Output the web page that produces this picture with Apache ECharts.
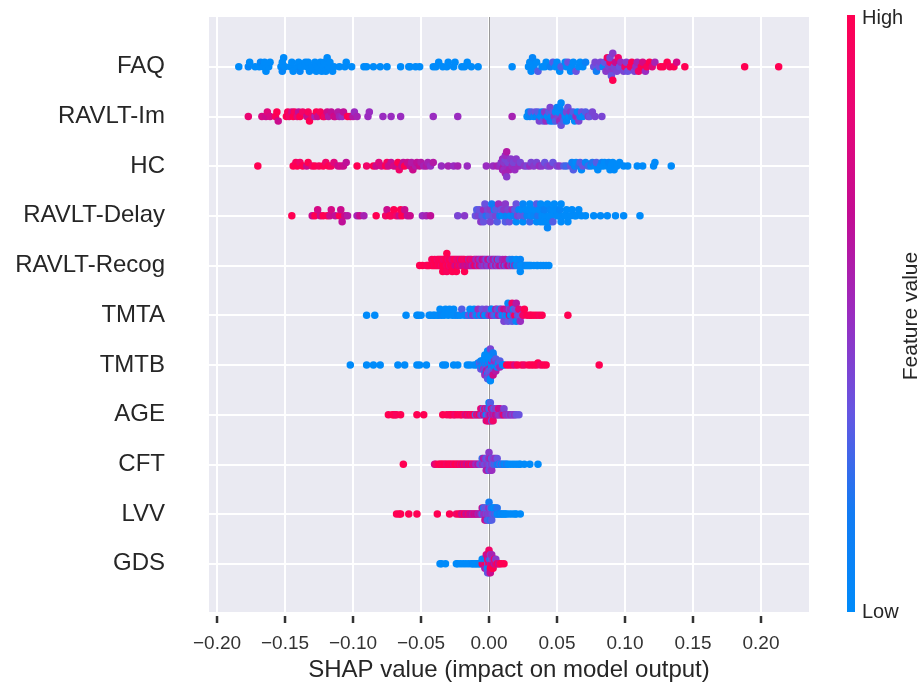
<!DOCTYPE html>
<html>
<head>
<meta charset="utf-8">
<script src="https://cdn.jsdelivr.net/npm/echarts@6/dist/echarts.min.js"></script>
<style>
  html, body { margin: 0; padding: 0; background: #fff; }
  #chart { width: 922px; height: 687px; }
</style>
</head>
<body>
<div id="chart"></div>
<script>
// feature names, bottom row first (least important at the bottom)
const features = ['GDS', 'LVV', 'CFT', 'AGE', 'TMTB', 'TMTA', 'RAVLT-Recog', 'RAVLT-Delay', 'HC', 'RAVLT-Im', 'FAQ'];
const xTicks = [-0.2, -0.15, -0.1, -0.05, 0, 0.05, 0.1, 0.15, 0.2];
// low -> high feature value
const colorStops = ['#008bfa', '#127bf3', '#6556e2', '#9a2cc0', '#c30c93', '#e80676', '#ff0052'];

// each point: [SHAP value, feature value (0 = low, 1 = high)]
const faq = [
  [-0.184,0],[-0.177,0.05],[-0.176,0],[-0.172,0],[-0.169,0],[-0.168,0.05],[-0.166,0],[-0.165,0],[-0.164,0],[-0.162,0],
  [-0.161,0],[-0.153,0],[-0.152,0],[-0.152,0.05],[-0.151,0],[-0.150,0],[-0.146,0],[-0.145,0],[-0.144,0],[-0.141,0],
  [-0.140,0],[-0.139,0.05],[-0.138,0],[-0.135,0],[-0.134,0],[-0.133,0],[-0.132,0],[-0.130,0],[-0.128,0],[-0.127,0],
  [-0.126,0],[-0.124,0],[-0.123,0],[-0.122,0],[-0.121,0],[-0.120,0],[-0.119,0],[-0.118,0],[-0.117,0],[-0.115,0],
  [-0.114,0],[-0.110,0],[-0.106,0],[-0.105,0],[-0.101,0],[-0.092,0],[-0.090,0],[-0.085,0],[-0.080,0],[-0.075,0],
  [-0.065,0],[-0.059,0],[-0.058,0],[-0.054,0],[-0.051,0],[-0.041,0],[-0.039,0],[-0.037,0],[-0.034,0],[-0.031,0],
  [-0.030,0],[-0.026,0],[-0.025,0],[-0.020,0],[-0.018,0],[-0.016,0],[-0.013,0],[-0.008,0],
  [0.017,0],[0.029,0],[0.030,0],[0.031,0],[0.032,0.05],[0.033,0],[0.035,0],[0.036,0.3],[0.039,0],[0.041,0],
  [0.042,0],[0.045,0.1],[0.047,0.3],[0.049,0],[0.050,0],[0.052,0],[0.053,0.3],[0.056,0],[0.057,0],[0.058,0.35],
  [0.060,0],[0.061,0],[0.062,0],[0.064,0.35],[0.066,0],[0.067,0],[0.069,0],[0.071,0.1],[0.077,0.35],[0.078,0.4],
  [0.079,0.15],[0.081,0.35],[0.082,0.4],[0.084,0.05],[0.085,0.35],[0.086,0.45],[0.087,0.95],[0.088,0.4],[0.089,0.9],[0.090,0.45],
  [0.089,0.4],[0.090,0.35],[0.091,0.45],
  [0.091,1],[0.092,0.4],[0.093,0.7],[0.094,0.4],[0.095,0.9],[0.096,0.35],[0.097,0.5],[0.099,0.4],[0.100,0.9],[0.101,0.45],
  [0.102,0.35],[0.104,0.95],[0.105,1],[0.107,0.4],[0.108,0.5],[0.109,0.55],[0.110,0.9],[0.112,1],[0.113,0.75],[0.115,0.5],
  [0.116,0.95],[0.118,1],[0.120,0.8],[0.122,0.55],[0.126,1],[0.128,1],[0.131,1],[0.133,0.95],[0.136,1],[0.138,0.75],
  [0.144,1],[0.188,1],[0.213,1]
];
const ravltIm = [
  [-0.177,0.85],[-0.167,0.75],[-0.164,0.7],[-0.163,0.8],[-0.161,0.75],[-0.157,0.95],[-0.156,1],[-0.155,0.7],[-0.149,1],[-0.148,0.95],
  [-0.147,0.9],[-0.145,0.75],[-0.144,1],[-0.143,0.95],[-0.141,0.8],[-0.140,0.65],[-0.139,1],[-0.137,0.9],[-0.134,0.7],[-0.133,0.95],
  [-0.132,1],[-0.130,0.9],[-0.128,0.55],[-0.127,1],[-0.126,0.7],[-0.124,0.95],[-0.122,1],[-0.121,0.9],[-0.119,0.7],[-0.118,0.6],
  [-0.116,0.65],[-0.114,0.75],[-0.113,0.7],[-0.111,0.6],[-0.110,0.55],[-0.108,0.5],[-0.107,0.65],[-0.104,1],[-0.102,0.95],[-0.100,0.6],
  [-0.099,0.5],[-0.097,0.55],[-0.089,0.5],[-0.088,0.5],[-0.078,0.5],[-0.072,0.5],[-0.065,0.5],[-0.041,0.5],[-0.023,0.5],[0.017,0.55],
  [0.028,0],[0.029,0.05],[0.030,0.1],[0.031,0.3],[0.033,0],[0.034,0.35],[0.035,0.05],[0.036,0.3],[0.037,0.4],[0.038,0],
  [0.039,0.1],[0.040,0.35],[0.041,0.05],[0.041,0.45],[0.042,0.5],[0.043,0],[0.044,0.3],[0.045,0.1],[0.045,0.4],[0.046,0],
  [0.047,0.35],[0.047,0.05],[0.048,0.45],[0.049,0],[0.049,0.3],[0.050,0.1],[0.051,0.4],[0.051,0],[0.052,0.5],[0.052,0.05],
  [0.053,0.35],[0.053,0],[0.054,0.45],[0.055,0.1],[0.055,0.3],[0.056,0],[0.057,0.4],[0.057,0.05],[0.058,0.35],[0.059,0],
  [0.060,0.45],[0.061,0.1],[0.062,0.3],[0.063,0],[0.064,0.5],[0.065,0.05],[0.066,0.4],[0.067,0.1],[0.068,0.35],[0.069,0],
  [0.071,0.3],[0.073,0.45],[0.074,0.35],[0.076,0.4],[0.078,0.4],[0.083,0.4]
];
const hc = [
  [-0.170,1],[-0.144,1],[-0.142,0.95],[-0.141,1],[-0.139,0.9],[-0.137,1],[-0.134,0.7],[-0.133,1],[-0.130,0.9],[-0.128,1],
  [-0.125,0.95],[-0.122,1],[-0.120,0.9],[-0.118,1],[-0.116,0.95],[-0.114,0.8],[-0.111,0.7],[-0.109,0.75],[-0.107,0.7],[-0.105,0.65],
  [-0.097,1],[-0.090,0.9],[-0.085,1],[-0.083,0.7],[-0.081,0.8],[-0.079,0.75],[-0.076,1],[-0.075,0.95],[-0.074,0.7],[-0.072,0.65],
  [-0.070,0.75],[-0.068,0.7],[-0.067,1],[-0.066,0.9],[-0.064,0.7],[-0.063,0.65],[-0.062,1],[-0.060,0.7],[-0.058,0.65],[-0.057,0.6],
  [-0.056,0.7],[-0.054,0.6],[-0.053,0.65],[-0.051,0.7],[-0.050,0.6],[-0.048,0.55],[-0.046,0.6],[-0.045,0.55],[-0.043,0.5],[-0.041,0.6],
  [-0.035,0.5],[-0.030,0.55],[-0.026,0.5],[-0.023,0.55],[-0.016,0.5],[-0.002,0.5],[0.003,0.5],[0.006,0.55],
  [0.008,0.5],[0.009,0.45],[0.010,0.55],[0.010,0.5],[0.011,0.6],[0.011,0.45],[0.011,0.5],[0.012,0.4],[0.012,0.55],[0.012,0.5],
  [0.013,0.45],[0.013,0.6],[0.014,0.5],[0.014,0.4],[0.015,0.55],[0.016,0.45],[0.017,0.5],[0.018,0.4],[0.019,0.5],[0.020,0.45],
  [0.022,0.5],[0.023,0.4],
  [0.026,0.45],[0.028,0.4],[0.030,0.5],[0.031,0.4],[0.033,0.45],[0.035,0.4],[0.037,0.5],[0.039,0.45],[0.041,0.35],[0.043,0.4],
  [0.045,0.45],[0.047,0.35],[0.050,0.4],[0.052,0.45],[0.055,0.3],[0.057,0.25],[0.060,0.35],[0.061,0.1],[0.062,0.3],[0.063,0.05],
  [0.064,0],[0.066,0.2],[0.067,0.3],[0.068,0],[0.069,0.35],[0.071,0.05],[0.073,0.25],[0.075,0],[0.076,0.2],[0.078,0],
  [0.079,0.3],[0.080,0],[0.082,0],[0.083,0.1],[0.084,0],[0.085,0],[0.087,0],[0.088,0.05],[0.089,0],[0.090,0],
  [0.091,0],[0.092,0],[0.094,0],[0.096,0],[0.099,0],[0.102,0],[0.109,0],[0.113,0],[0.121,0],[0.122,0],[0.134,0]
];
const ravltDelay = [
  [-0.145,1],[-0.130,0.7],[-0.128,1],[-0.126,0.75],[-0.124,0.7],[-0.122,1],[-0.119,1],[-0.117,0.7],[-0.116,0.75],[-0.113,0.65],
  [-0.110,1],[-0.109,0.7],[-0.108,0.65],[-0.106,0.7],[-0.104,0.6],[-0.097,0.55],[-0.095,0.7],[-0.092,0.55],[-0.083,1],[-0.076,0.9],
  [-0.075,0.7],[-0.073,1],[-0.072,0.95],[-0.070,1],[-0.068,0.9],[-0.066,0.7],[-0.065,1],[-0.064,1],[-0.062,0.7],[-0.060,0.65],
  [-0.058,0.7],[-0.049,0.5],[-0.046,0.55],[-0.043,0.65],[-0.023,0.4],[-0.018,0.45],
  [-0.010,0.35],[-0.009,0.3],[-0.008,0.4],[-0.007,0.35],[-0.006,0.45],[-0.005,0.3],[-0.004,0.5],[-0.004,0.35],[-0.003,0.35],[-0.002,0.2],
  [-0.001,0.4],[0.000,0.3],[0.001,0.45],[0.001,0.4],[0.002,0.15],[0.003,0.35],[0.004,0.05],[0.005,0.4],[0.005,0.3],[0.006,0.3],
  [0.007,0.5],[0.008,0.1],[0.009,0.35],[0.010,0],[0.011,0.45],[0.012,0.3],[0.012,0.45],[0.013,0.05],[0.014,0.4],[0.015,0.35],
  [0.016,0],[0.017,0.5],[0.018,0.1],[0.019,0.3],[0.020,0],[0.020,0.35],[0.021,0.4],[0.022,0.05],[0.023,0.35],[0.024,0],
  [0.025,0],[0.025,0.05],[0.026,0.3],[0.027,0],[0.028,0.05],[0.029,0],[0.030,0.25],[0.030,0],[0.031,0],[0.032,0],
  [0.033,0.05],[0.034,0],[0.035,0],[0.035,0.3],[0.036,0.2],[0.037,0],[0.038,0],[0.038,0],[0.039,0],[0.040,0.05],
  [0.040,0],[0.041,0],[0.041,0.1],[0.042,0],[0.043,0],[0.043,0.05],[0.044,0],[0.045,0.05],[0.045,0],[0.046,0],
  [0.047,0],[0.047,0.3],[0.048,0],[0.050,0],[0.050,0],[0.051,0],[0.052,0.05],[0.053,0],[0.053,0],[0.055,0],
  [0.056,0],[0.057,0],[0.058,0],[0.060,0],[0.061,0],[0.063,0],[0.064,0],[0.066,0],[0.068,0],[0.071,0],
  [0.077,0],[0.082,0],[0.087,0],[0.093,0],[0.099,0],[0.111,0]
];
const ravltRecog = [
  [-0.051,1],[-0.049,1],[-0.046,1],[-0.045,0.95],[-0.044,1],[-0.042,1],[-0.042,0.95],[-0.041,1],[-0.040,0.95],[-0.040,1],
  [-0.039,1],[-0.038,1],[-0.038,0.9],[-0.037,0.95],[-0.037,1],[-0.036,1],[-0.036,0.95],[-0.035,0.9],[-0.035,1],[-0.034,1],
  [-0.034,0.95],[-0.034,1],[-0.033,1],[-0.033,0.9],[-0.032,1],[-0.032,0.95],[-0.031,0.9],[-0.031,1],[-0.031,0.95],[-0.031,1],
  [-0.030,1],[-0.030,0.85],[-0.029,0.85],[-0.029,1],[-0.028,1],[-0.028,0.95],[-0.027,0.95],[-0.027,0.8],[-0.027,1],[-0.026,1],
  [-0.026,0.9],[-0.025,0.75],[-0.025,1],[-0.024,0.7],[-0.024,0.9],[-0.024,1],[-0.023,1],[-0.023,0.8],[-0.022,0.75],[-0.022,1],
  [-0.021,0.95],[-0.021,0.7],[-0.020,0.8],[-0.020,1],[-0.019,0.65],[-0.019,0.9],[-0.018,0.7],[-0.018,0.9],[-0.018,1],[-0.017,0.75],
  [-0.016,0.65],[-0.016,1],[-0.015,0.7],[-0.015,0.6],[-0.014,0.75],[-0.014,0.95],[-0.013,0.65],[-0.013,0.8],[-0.012,0.55],[-0.011,0.7],
  [-0.011,0.9],[-0.010,0.95],[-0.010,0.6],[-0.009,0.65],[-0.009,0.5],[-0.008,0.5],[-0.008,0.75],[-0.007,0.9],[-0.007,0.55],[-0.006,0.6],
  [-0.006,0.45],[-0.005,0.45],[-0.005,0.7],[-0.004,0.5],[-0.004,0.65],[-0.003,0.4],[-0.003,0.55],[-0.002,0.55],[-0.002,0.35],[-0.001,0.45],
  [-0.001,0.6],[0.000,0.4],[0.000,0.7],[0.001,0.5],[0.001,0.35],[0.002,0.7],[0.002,0.45],[0.003,0.45],[0.003,0.6],[0.004,0.35],
  [0.004,0.55],[0.005,0.65],[0.005,0.3],[0.006,0.4],[0.006,0.7],[0.007,0.5],[0.007,0.3],[0.008,0.7],[0.008,0.4],[0.009,0.6],
  [0.010,0.35],[0.010,0.55],[0.011,0.65],[0.012,0.3],[0.012,0.6],[0.013,0.5],[0.014,0.7],[0.015,0.65],[0.015,0.25],[0.016,0.4],
  [0.017,0.6],[0.017,0.1],[0.018,0.1],[0.019,0.55],[0.020,0.05],[0.020,0],[0.021,0],[0.022,0.2],[0.023,0],[0.023,0.05],
  [0.023,0],[0.024,0],[0.025,0],[0.026,0],[0.027,0.05],[0.028,0],[0.029,0],[0.030,0],[0.031,0],[0.033,0],
  [0.035,0],[0.036,0],[0.038,0],[0.040,0],[0.042,0],[0.044,0]
];
const tmta = [
  [-0.090,0],[-0.084,0],[-0.061,0],[-0.053,0],[-0.052,0],[-0.050,0],[-0.044,0],[-0.043,0],[-0.041,0],[-0.040,0],
  [-0.038,0],[-0.037,0],[-0.036,0],[-0.035,0.05],[-0.033,0],[-0.032,0],[-0.030,0],[-0.029,0],[-0.027,0],[-0.026,0],
  [-0.025,0],[-0.023,0.05],[-0.021,0],[-0.020,0.3],[-0.018,0],[-0.016,0],[-0.015,0.35],[-0.014,0],[-0.013,0.05],[-0.012,0.45],
  [-0.011,0],[-0.010,0.3],[-0.009,0],[-0.008,0.5],[-0.007,0.4],[-0.006,0],[-0.005,0.35],[-0.004,0.55],[-0.003,0],[-0.002,0.4],
  [-0.001,0.05],[0.000,0.5],[0.001,0.35],[0.002,0.7],[0.002,0],[0.003,0.45],[0.004,0.3],[0.005,0.6],[0.006,0],[0.006,0.4],
  [0.007,0.55],[0.008,0.05],[0.009,0.35],[0.009,0.5],[0.010,0],[0.011,0.7],[0.011,0.4],[0.012,0.3],[0.013,0],[0.013,0.6],
  [0.014,0.35],[0.014,0.05],[0.015,0.75],[0.015,0.4],[0.016,0],[0.016,0.5],[0.017,0.3],[0.017,0.9],[0.018,0.45],[0.018,0],
  [0.019,0.95],[0.019,0.35],[0.020,0.05],[0.020,0.6],[0.021,0.4],[0.022,0.3],[0.022,0.8],[0.023,0.5],[0.024,0.35],[0.025,0.9],
  [0.026,1],[0.028,1],[0.030,0.95],[0.031,1],[0.033,1],[0.035,1],[0.037,0.95],[0.039,1],[0.058,1]
];
const tmtb = [
  [-0.102,0],[-0.090,0],[-0.085,0],[-0.080,0],[-0.067,0],[-0.062,0],[-0.053,0],[-0.051,0],[-0.046,0],[-0.034,0],
  [-0.032,0],[-0.026,0],[-0.023,0],[-0.016,0],[-0.014,0],[-0.011,0],[-0.009,0],[-0.008,0],
  [-0.007,0],[-0.007,0.3],[-0.006,0],[-0.006,0.05],[-0.006,0.35],[-0.005,0],[-0.005,0.4],[-0.005,0],[-0.005,0.1],
  [-0.004,0],[-0.004,0.3],[-0.004,0],[-0.004,0.05],[-0.004,0.45],[-0.003,0],[-0.003,0.35],[-0.003,0],[-0.003,0.1],[-0.003,0],[-0.003,0.5],
  [-0.002,0],[-0.002,0.3],[-0.002,0],[-0.002,0.05],[-0.002,0.4],[-0.002,0],[-0.002,0.6],
  [-0.001,0],[-0.001,0.35],[-0.001,0],[-0.001,0.1],[-0.001,0],[-0.001,0.45],[-0.001,0],[-0.001,0.3],
  [0.000,0],[0.000,0.4],[0.000,0],[0.000,0.05],[0.000,0.55],[0.000,0],[0.000,0.3],[0.000,0],[0.000,0.35],
  [0.001,0],[0.001,0.3],[0.001,0],[0.001,0.45],[0.001,0.05],[0.001,0],[0.001,0.4],[0.001,0],
  [0.002,0],[0.002,0.35],[0.002,0],[0.002,0.5],[0.002,0.05],[0.002,0],[0.002,0.3],
  [0.003,0],[0.003,0.4],[0.003,0],[0.003,0.7],[0.003,0.1],
  [0.004,0],[0.004,0.35],[0.004,0.05],[0.004,0.5],[0.005,0],[0.005,0.3],[0.005,0.6],
  [0.006,0],[0.006,0.45],[0.006,0.05],[0.007,0.4],[0.007,0],[0.008,0.5],[0.008,0.3],[0.010,0],[0.011,0],
  [0.013,1],[0.015,1],[0.017,1],[0.019,0.75],[0.021,1],[0.024,1],[0.026,0.9],[0.029,1],[0.031,1],[0.033,1],
  [0.035,1],[0.036,1],[0.038,0.9],[0.040,1],[0.042,1],[0.081,1]
];
const age = [
  [-0.074,1],[-0.071,1],[-0.070,1],[-0.069,1],[-0.068,0.95],[-0.065,1],[-0.053,1],[-0.048,1],[-0.034,1],[-0.031,1],
  [-0.029,0.95],[-0.028,1],[-0.026,1],[-0.025,0.9],[-0.023,1],[-0.021,0.95],[-0.020,1],[-0.018,0.9],[-0.017,0.7],[-0.016,1],
  [-0.015,0.75],[-0.014,1],[-0.013,0.85],[-0.012,0.95],[-0.011,1],[-0.010,0.3],[-0.009,0.9],[-0.008,0.6],[-0.007,1],[-0.006,0.5],
  [-0.006,0.8],[-0.005,0.4],[-0.004,0.7],[-0.004,0.3],[-0.003,0.55],[-0.003,0.9],[-0.002,0],[-0.002,0.45],[-0.002,0.75],[-0.001,0.3],
  [-0.001,0.6],[-0.001,0.95],[0.000,0.5],[0.000,0.2],[0.000,0.7],[0.000,0.05],[0.001,0.65],[0.001,0.4],[0.001,0.85],[0.001,0.3],
  [0.002,0.5],[0.002,0.75],[0.002,0.35],[0.003,0.6],[0.003,0.45],[0.003,0.9],[0.004,0.55],[0.004,0.3],[0.005,0.7],[0.005,0.45],
  [0.006,0.6],[0.006,0.4],[0.007,0.5],[0.007,0.8],[0.008,0.45],[0.008,0.65],[0.009,0.5],[0.010,0.6],[0.011,0.95],[0.011,0.4],
  [0.012,0.55],[0.013,0.45],[0.014,0.5],[0.015,0.4],[0.016,0.55],[0.017,0.45],[0.018,0.4],[0.019,0.5],[0.020,0.35],[0.022,0.35]
];
const cft = [
  [-0.063,1],[-0.040,0.7],[-0.039,0.9],[-0.037,1],[-0.036,1],[-0.035,1],[-0.034,0.95],[-0.033,1],[-0.032,1],[-0.031,0.9],
  [-0.030,1],[-0.029,1],[-0.028,0.95],[-0.027,1],[-0.026,0.85],[-0.025,1],[-0.024,1],[-0.023,0.9],[-0.022,1],[-0.021,0.8],
  [-0.020,1],[-0.019,0.7],[-0.018,0.95],[-0.017,0.75],[-0.016,0.65],[-0.015,1],[-0.014,0.7],[-0.013,1],[-0.012,0.6],[-0.011,0.8],
  [-0.010,0.55],[-0.009,0.5],[-0.008,0.65],[-0.007,0.45],[-0.006,0.3],[-0.005,0.5],[-0.005,0.25],[-0.004,0.45],[-0.004,0.6],[-0.003,0.35],
  [-0.003,0.5],[-0.002,0.4],[-0.002,0.3],[-0.002,0.55],[-0.001,0.45],[-0.001,0.35],[-0.001,0.6],[0.000,0.4],[0.000,0.5],[0.000,0.3],
  [0.000,0.45],[0.001,0.35],[0.001,0.55],[0.001,0.4],[0.002,0.45],[0.002,0.3],[0.002,0.5],[0.003,0.35],[0.003,0.4],[0.004,0.25],
  [0.004,0.45],[0.005,0.3],[0.005,0.5],[0.006,0.2],[0.006,0.35],[0.007,0.1],[0.008,0.3],[0.009,0],[0.010,0.25],[0.011,0.05],
  [0.012,0],[0.013,0.2],[0.014,0],[0.016,0],[0.018,0],[0.020,0],[0.022,0],[0.023,0],[0.026,0],[0.030,0],[0.036,0]
];
const lvv = [
  [-0.068,1],[-0.066,1],[-0.065,1],[-0.059,1],[-0.053,1],[-0.038,1],[-0.029,1],[-0.024,0.9],[-0.022,1],[-0.021,0.95],
  [-0.020,0.7],[-0.019,0.75],[-0.018,1],[-0.017,0.65],[-0.016,0.7],[-0.015,0.9],[-0.014,0.65],[-0.013,0.7],[-0.012,0.6],[-0.011,0.75],
  [-0.010,0.65],[-0.009,0.7],[-0.008,0.55],[-0.007,0.6],[-0.006,0.5],[-0.005,0.3],[-0.005,0.65],[-0.004,0.45],[-0.004,0.2],[-0.003,0.5],
  [-0.003,0.35],[-0.003,0.7],[-0.002,0.4],[-0.002,0.3],[-0.002,0.6],[-0.001,0.45],[-0.001,0.35],[-0.001,0.25],[0.000,0.4],[0.000,0.5],
  [0.000,0.3],[0.000,0.15],[0.001,0.45],[0.001,0.35],[0.001,0.2],[0.002,0.4],[0.002,0.1],[0.002,0.3],[0.003,0.35],[0.003,0.05],
  [0.004,0.25],[0.004,0],[0.005,0.3],[0.005,0.05],[0.006,0],[0.006,0.2],[0.007,0],[0.008,0.1],[0.009,0],[0.010,0.05],
  [0.011,0],[0.012,0],[0.013,0],[0.015,0],[0.017,0],[0.019,0],[0.020,0],[0.023,0]
];
const gds = [
  [-0.036,0],[-0.035,0],[-0.032,0],[-0.024,0],[-0.023,0],[-0.021,0],[-0.019,0],[-0.017,0],[-0.015,0],[-0.013,0],
  [-0.012,0.05],[-0.011,0],[-0.010,0],[-0.009,0],[-0.008,0],[-0.007,0.05],[-0.006,0],[-0.005,1],[-0.005,0],[-0.004,0.7],
  [-0.004,0],[-0.003,0.9],[-0.003,0.1],[-0.003,0.6],[-0.002,1],[-0.002,0.05],[-0.002,0.5],[-0.002,0.8],[-0.001,0.4],[-0.001,0.95],
  [-0.001,0],[-0.001,0.65],[-0.001,0.3],[0.000,1],[0.000,0.5],[0.000,0.1],[0.000,0.75],[0.000,0.4],[0.000,0.9],[0.001,0.6],
  [0.001,0.2],[0.001,1],[0.001,0.45],[0.001,0.7],[0.002,0.85],[0.002,0.35],[0.002,0.95],[0.002,0.55],[0.003,0.7],[0.003,0.5],
  [0.003,1],[0.004,0.6],[0.004,0.9],[0.005,0.75],[0.005,0.45],[0.006,1],[0.007,0.65],[0.008,0.9],[0.009,1],[0.011,1]
];

const rows = [gds, lvv, cft, age, tmtb, tmta, ravltRecog, ravltDelay, hc, ravltIm, faq];
const rowPos = features.map((_, i) => i);

// beeswarm offsets, same binning as shap's summary plot
const swarm = (vals) => {
  const nbins = 100;
  const mn = Math.min(...vals), mx = Math.max(...vals);
  const quant = vals.map(v => Math.round(nbins * (v - mn) / (mx - mn + 1e-8)));
  const inds = vals.map((_, i) => i).sort((a, b) => quant[a] - quant[b] || a - b);
  const ys = new Array(vals.length).fill(0);
  let layer = 0, lastBin = -1;
  inds.forEach(i => {
    if (quant[i] !== lastBin) layer = 0;
    ys[i] = Math.ceil(layer / 2) * ((layer % 2) * 2 - 1);
    layer++;
    lastBin = quant[i];
  });
  const m = Math.max(...ys.map(y => y + 1));
  return ys.map(y => y * 0.9 * 0.4 / m);
};

const FONT = '"Liberation Sans", Arial, sans-serif';
const TEXT = '#262626';
const Y_MIN = -0.97;
const fmt = v => (v < 0 ? '\u2212' : '') + Math.abs(v).toFixed(2);

const scatterSeries = rows.map((row, pos) => {
  const ys = swarm(row.map(p => p[0]));
  return {
    name: features[pos],
    type: 'scatter',
    z: 3,
    symbolSize: 7.5,
    itemStyle: { opacity: 1 },
    data: row.map((p, i) => [p[0], pos + ys[i], p[1]])
  };
});

// colorbar gradient, top = high
const barGradient = new echarts.graphic.LinearGradient(0, 0, 0, 1,
  colorStops.slice().reverse().map((c, i, a) => ({ offset: i / (a.length - 1), color: c })));

const baseGraphic = [
  { type: 'rect', left: 847, top: 15, shape: { width: 8, height: 597 }, style: { fill: barGradient } },
  { type: 'text', left: 862, top: 8, style: { text: 'High', font: '20px ' + FONT, fill: TEXT } },
  { type: 'text', left: 862, top: 602, style: { text: 'Low', font: '20px ' + FONT, fill: TEXT } },
  { type: 'text', x: 911, y: 316, rotation: Math.PI / 2,
    style: { text: 'Feature value', font: '21px ' + FONT, fill: TEXT, textAlign: 'center', textVerticalAlign: 'middle' } }
];

const option = {
  backgroundColor: '#fff',
  animation: false,
  grid: {
    left: 209, right: 113, top: 17, bottom: 75,
    show: true, backgroundColor: '#eaeaf2', borderWidth: 0
  },
  xAxis: {
    type: 'value',
    min: -0.2059,
    max: 0.2353,
    offset: 5,
    axisLine: { show: false, onZero: false },
    axisTick: { show: false },
    axisLabel: { customValues: xTicks, formatter: fmt, fontSize: 19, color: '#333', fontFamily: FONT, margin: 17 },
    splitLine: { show: false },
    name: 'SHAP value (impact on model output)',
    nameLocation: 'middle',
    nameGap: 41,
    nameTextStyle: { fontSize: 24, color: TEXT, fontFamily: FONT }
  },
  yAxis: {
    type: 'value',
    min: Y_MIN,
    max: 11,
    axisLine: { show: false },
    axisTick: { show: false },
    axisLabel: {
      customValues: rowPos,
      fontSize: 24, color: TEXT, fontFamily: FONT, margin: 44,
      formatter: v => features[Math.round(v)] || ''
    },
    splitLine: { show: false }
  },
  visualMap: {
    type: 'continuous',
    show: false,
    min: 0, max: 1,
    dimension: 2,
    seriesIndex: scatterSeries.map((_, i) => i),
    inRange: { color: colorStops }
  },
  graphic: baseGraphic,
  series: [
    ...scatterSeries,
    {
      // white grid lines
      type: 'scatter', data: [], z: 1,
      markLine: {
        silent: true, z: 1, symbol: 'none', label: { show: false },
        lineStyle: { color: '#fff', width: 2, type: 'solid' },
        data: xTicks.map(v => ({ xAxis: v })).concat(rowPos.map(v => ({ yAxis: v })))
      }
    },
    {
      // zero line, behind the dots
      type: 'scatter', data: [], z: 2,
      markLine: {
        silent: true, z: 2, symbol: 'none', label: { show: false },
        lineStyle: { color: '#999', width: 1, type: 'solid' },
        data: [{ xAxis: 0 }]
      }
    }
  ]
};

const myChart = echarts.init(document.getElementById('chart'));
myChart.setOption(option);

// tick marks just below the plot, placed through the axis scale
const yBottom = myChart.convertToPixel({ yAxisIndex: 0 }, Y_MIN);
const tickMarks = xTicks.map(v => {
  const x = myChart.convertToPixel({ xAxisIndex: 0 }, v);
  return {
    type: 'line',
    z: 100,
    shape: { x1: x, y1: yBottom + 4, x2: x, y2: yBottom + 11 },
    style: { stroke: '#333', lineWidth: 2.5 }
  };
});
myChart.setOption({ graphic: baseGraphic.concat(tickMarks) });
</script>
</body>
</html>
